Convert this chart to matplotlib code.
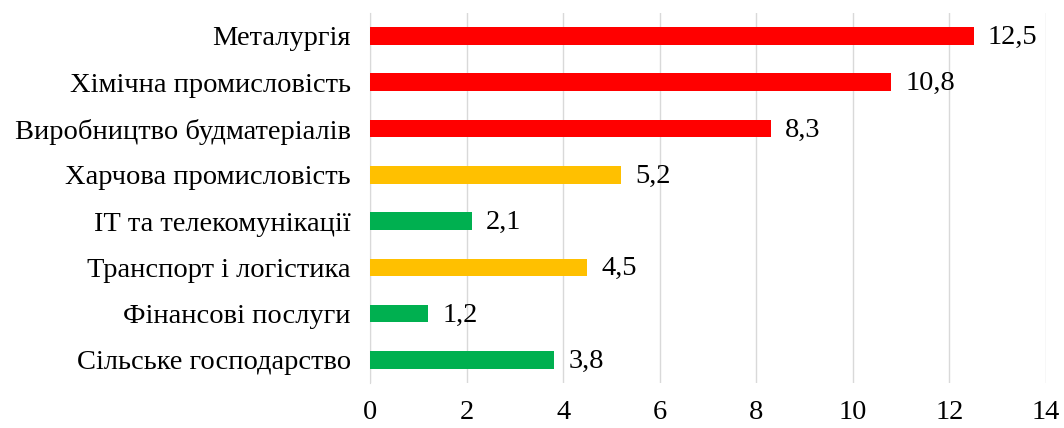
import matplotlib.pyplot as plt

galuzi = ["Сільське господарство", "Фінансові послуги", "Транспорт і логістика",
          "ІТ та телекомунікації", "Харчова промисловість", "Виробництво будматеріалів",
          "Хімічна промисловість", "Металургія"]
znachennia = [3.8, 1.2, 4.5, 2.1, 5.2, 8.3, 10.8, 12.5]
kolory = ["#00B050", "#00B050", "#FFC000", "#00B050", "#FFC000", "#FF0000", "#FF0000", "#FF0000"]

plt.rcParams['font.family'] = ['Liberation Serif', 'DejaVu Serif']

fig = plt.figure(figsize=(10.64, 4.28), dpi=100)
ax = fig.add_axes([0.348, 0.105, 0.635, 0.865])

y = range(len(galuzi))
ax.barh(y, znachennia, height=0.38, color=kolory, zorder=3)
for i, v in enumerate(znachennia):
    ax.text(v + 0.3, i - 0.03, f"{v:.1f}".replace(".", ","), va="center", ha="left", fontsize=20.5)

ax.set_yticks(list(y))
ax.set_yticklabels(galuzi, fontsize=20.5)
ax.set_xlim(0, 14)
ax.set_ylim(-0.5, len(galuzi) - 0.5)
ax.set_xticks(range(0, 15, 2))
ax.tick_params(axis="x", labelsize=20.5, length=0, pad=12)
ax.tick_params(axis="y", length=0, pad=14)
ax.grid(axis="x", color="#D9D9D9", linewidth=1, zorder=0)
for s in ["top", "right", "bottom"]:
    ax.spines[s].set_visible(False)
ax.spines["left"].set_color("#D9D9D9")

fig.savefig("out.png", dpi=100)
